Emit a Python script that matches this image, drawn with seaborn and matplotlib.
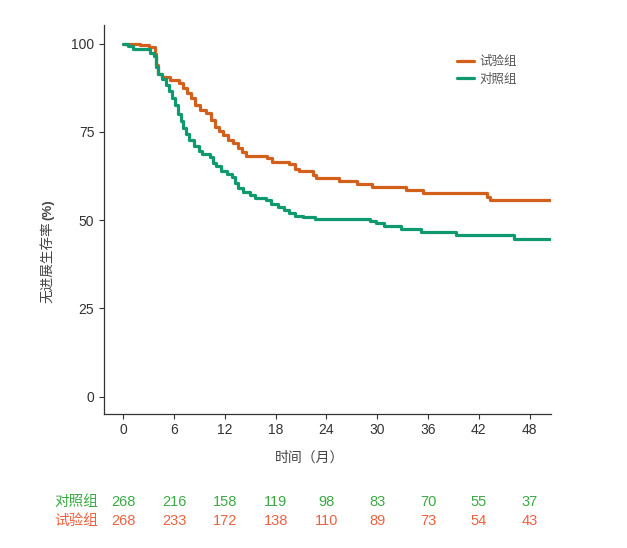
import numpy as np
import pandas as pd
import matplotlib
matplotlib.use("Agg")
import matplotlib.pyplot as plt
import seaborn as sns

# =========================================================
# DATA
# =========================================================

trial_time = [0, 2.0, 3.0, 3.7, 3.9, 4.1, 4.6, 5.5, 6.6, 7.0, 7.5, 8.0, 8.5, 9.0,
              9.8, 10.3, 10.8, 11.3, 11.8, 12.4, 13.0, 13.5, 14.0, 14.5, 17.0,
              17.6, 19.6, 20.3, 20.8, 22.4, 22.8, 25.5, 27.6, 29.4, 33.4, 35.4,
              43.0, 43.3, 50.5]
trial_surv = [100, 99.6, 99.0, 97, 94, 91.5, 90.5, 89.8, 88.8, 87.5, 86, 84.5,
              82.5, 81.3, 80.3, 78.5, 76.5, 75.2, 74.2, 72.8, 71.8, 70.5, 69.2,
              68.3, 67.5, 66.6, 65.8, 64.5, 63.8, 62.8, 61.9, 61.0, 60.2, 59.4,
              58.6, 57.7, 56.6, 55.6, 55.6]

ctrl_time = [0, 0.6, 1.1, 3.1, 3.6, 3.9, 4.1, 4.6, 5.0, 5.4, 5.8, 6.1, 6.5, 6.8,
             7.1, 7.4, 7.8, 8.4, 8.9, 9.3, 10.2, 10.6, 11.0, 11.5, 12.2, 12.8,
             13.2, 13.6, 14.1, 15.0, 15.6, 16.8, 17.4, 18.3, 19.0, 19.6, 20.3,
             21.2, 22.7, 29.2, 29.9, 30.8, 32.8, 35.2, 39.3, 46.2, 50.5]
ctrl_surv = [100, 99.2, 98.4, 97.4, 96.4, 93.5, 91.3, 90, 88.2, 86.5, 84.5, 82.5,
             80.2, 78, 76.2, 74.5, 72.8, 71.0, 69.5, 68.8, 67.8, 66.2, 65.2, 64,
             63, 62.2, 60.5, 59, 58, 57, 56.3, 55.6, 54.6, 53.8, 52.8, 52, 51.3,
             50.9, 50.3, 49.7, 49.2, 48.4, 47.5, 46.6, 45.9, 44.7, 44.7]

groups = ["试验组", "对照组"]
risk_times = [0, 6, 12, 18, 24, 30, 36, 42, 48]
risk_ctrl = [268, 216, 158, 119, 98, 83, 70, 55, 37]
risk_trial = [268, 233, 172, 138, 110, 89, 73, 54, 43]

x_ticks = [0, 6, 12, 18, 24, 30, 36, 42, 48]
y_ticks = [0, 25, 50, 75, 100]

# =========================================================
# STYLE
# =========================================================

sns.set_style("ticks")
plt.rcParams["font.family"] = ["Liberation Sans", "Noto Sans CJK SC", "DejaVu Sans"]

palette = {"试验组": "#D2601A", "对照组": "#0E9A6E"}

df = pd.concat([
    pd.DataFrame({"time": trial_time, "surv": trial_surv, "group": groups[0]}),
    pd.DataFrame({"time": ctrl_time, "surv": ctrl_surv, "group": groups[1]}),
])

# =========================================================
# PLOT
# =========================================================

fig = plt.figure(figsize=(6.27, 5.48), dpi=100)
ax = fig.add_axes([0.166, 0.245, 0.713, 0.709])

sns.lineplot(data=df, x="time", y="surv", hue="group", hue_order=groups,
             palette=palette, drawstyle="steps-post", linewidth=2.3,
             estimator=None, ax=ax)

ax.set_xlim(-2.28, 50.55)
ax.set_ylim(-4.8, 105.2)
ax.set_xticks(x_ticks)
ax.set_yticks(y_ticks)
ax.tick_params(axis="both", labelsize=10, colors="#333333", length=3.5, width=0.8)
for s in ["left", "bottom"]:
    ax.spines[s].set_color("#333333")
    ax.spines[s].set_linewidth(0.9)
sns.despine(ax=ax)

ax.set_xlabel("时间（月）", fontsize=10, color="#444444")
ax.xaxis.set_label_coords(0.46, -0.095)
ax.set_ylabel("")

fig.text(0.077, 0.522, "无进展生存率", rotation=90, ha="center", va="center",
         fontsize=9.8, color="#444444")
fig.text(0.077, 0.618, "(%)", rotation=90, ha="center", va="center",
         fontsize=9.5, color="#444444", fontweight="bold")

leg = ax.legend(loc="upper left", bbox_to_anchor=(0.765, 0.95), frameon=False,
                fontsize=9, handlelength=1.3, handletextpad=0.5,
                labelspacing=0.45)
for t in leg.get_texts():
    t.set_color("#555555")

# risk table
tr = ax.get_xaxis_transform()
for x, a, b in zip(risk_times, risk_ctrl, risk_trial):
    ax.text(x, -0.227, str(a), transform=tr, ha="center", va="center",
            fontsize=10.5, color="#3BAA45")
    ax.text(x, -0.276, str(b), transform=tr, ha="center", va="center",
            fontsize=10.5, color="#EE6040")
ax.text(-3.0, -0.227, "对照组", transform=tr, ha="right", va="center",
        fontsize=10.5, color="#3BAA45")
ax.text(-3.0, -0.276, "试验组", transform=tr, ha="right", va="center",
        fontsize=10.5, color="#EE6040")

fig.savefig("out.png", dpi=100)
